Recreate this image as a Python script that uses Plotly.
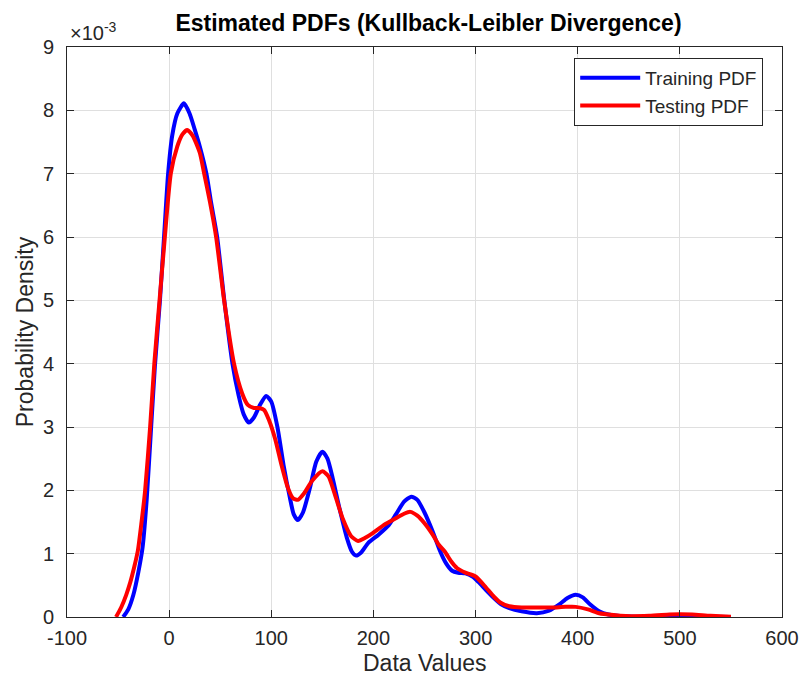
import plotly.graph_objects as go
import numpy as np

# Data values (x) and densities (in units of 1e-3)
train_x = [-45, -40, -35, -30, -26, -22, -18, -14, -9, -5, -1, 3, 8, 14.5, 20, 25, 30, 36.5,
           41, 47, 54, 62, 68, 73, 78, 83, 89, 95, 100, 106, 112, 118, 122, 126, 131, 138,
           144, 150, 155, 160, 167, 174, 179, 183, 188, 195, 205, 215, 222, 230, 237, 243,
           250, 258, 265, 271, 277, 283, 290, 297, 303, 310, 318, 325, 333, 345, 360, 372,
           382, 390, 398, 405, 412, 421, 430, 447, 470, 500, 525, 550]
train_y = [0.0, 0.12, 0.35, 0.72, 1.1, 1.85, 2.9, 3.95, 5.0, 6.0, 7.0, 7.6, 7.95, 8.11, 7.95,
           7.7, 7.43, 7.0, 6.55, 6.0, 5.0, 4.0, 3.5, 3.2, 3.07, 3.15, 3.35, 3.49, 3.4, 3.0,
           2.4, 1.9, 1.62, 1.53, 1.65, 2.05, 2.45, 2.61, 2.5, 2.2, 1.7, 1.25, 1.03, 0.97,
           1.02, 1.17, 1.3, 1.45, 1.62, 1.82, 1.9, 1.85, 1.65, 1.35, 1.05, 0.85, 0.73, 0.70,
           0.69, 0.64, 0.55, 0.43, 0.3, 0.2, 0.14, 0.09, 0.06, 0.1, 0.2, 0.3, 0.35, 0.31, 0.2,
           0.09, 0.04, 0.01, 0.0, 0.01, 0.005, 0.0]

test_x = [-52, -47, -42, -38, -34, -30.6, -27, -23.5, -18.6, -14.5, -9.4, -4.2, 1.6, 8, 13,
          17.7, 23, 30, 34.3, 40, 46, 53.8, 63.5, 71.5, 77, 83, 88, 93, 98, 104, 110, 116,
          121, 126, 132, 140, 150, 156, 162, 170, 178, 185, 192, 199, 210, 222, 230, 236,
          243, 250, 258, 264, 270, 276, 282, 290, 300, 310, 318, 325, 333, 345, 360, 375,
          388, 398, 410, 421, 435, 447, 470, 490, 500, 512, 530, 550]
test_y = [0.0, 0.15, 0.35, 0.55, 0.8, 1.05, 1.5, 2.0, 3.0, 4.0, 5.0, 6.0, 7.0, 7.43, 7.62,
          7.69, 7.6, 7.33, 7.0, 6.55, 6.0, 5.0, 4.0, 3.53, 3.35, 3.3, 3.3, 3.27, 3.1, 2.8,
          2.4, 2.05, 1.88, 1.85, 1.95, 2.15, 2.30, 2.22, 1.95, 1.55, 1.28, 1.20, 1.25, 1.32,
          1.45, 1.56, 1.63, 1.66, 1.6, 1.48, 1.3, 1.14, 1.03, 0.88, 0.77, 0.70, 0.64, 0.47,
          0.32, 0.22, 0.17, 0.15, 0.15, 0.15, 0.16, 0.16, 0.12, 0.06, 0.03, 0.015, 0.02,
          0.04, 0.045, 0.04, 0.02, 0.005]

scale = 1e-3
x_ticks = [-100, 0, 100, 200, 300, 400, 500, 600]
y_ticks = [0, 1, 2, 3, 4, 5, 6, 7, 8, 9]

FONT = "Liberation Sans, Arial, Helvetica, sans-serif"
AX = "#262626"
GRID = "#dfdfdf"

fig = go.Figure()
fig.add_trace(go.Scatter(x=train_x, y=np.array(train_y) * scale, mode="lines",
                         name="Training PDF", line=dict(color="#0000ff", width=4, shape="spline", smoothing=0.6)))
fig.add_trace(go.Scatter(x=test_x, y=np.array(test_y) * scale, mode="lines",
                         name="Testing PDF", line=dict(color="#ff0000", width=4, shape="spline", smoothing=0.6)))

fig.update_layout(
    width=811, height=684,
    margin=dict(l=67, r=21, t=47, b=67),
    paper_bgcolor="white", plot_bgcolor="white",
    font=dict(family=FONT, color=AX, size=20),
    title=dict(text="<b>Estimated PDFs (Kullback-Leibler Divergence)</b>",
               x=(67 + 790) / 2 / 811, xanchor="center", y=1 - 23 / 684, yanchor="middle",
               font=dict(size=23, color="black", family=FONT)),
    legend=dict(x=0.9737, xanchor="right", y=0.981, yanchor="top",
                bgcolor="white", bordercolor=AX, borderwidth=1,
                font=dict(size=19, color=AX, family=FONT),
                tracegroupgap=0, itemwidth=60),
    showlegend=True,
)
fig.update_xaxes(
    range=[-100, 600], tickvals=x_ticks, ticktext=[str(v) for v in x_ticks],
    showgrid=True, gridcolor=GRID, gridwidth=1, zeroline=False,
    showline=True, linecolor=AX, linewidth=1, mirror="ticks",
    ticks="inside", ticklen=7, tickcolor=AX, ticklabelstandoff=3,
    tickfont=dict(size=20, color=AX),
)
fig.update_yaxes(
    range=[0, 9 * scale], tickvals=[v * scale for v in y_ticks], ticktext=[str(v) for v in y_ticks],
    showgrid=True, gridcolor=GRID, gridwidth=1, zeroline=False,
    showline=True, linecolor=AX, linewidth=1, mirror="ticks",
    ticks="inside", ticklen=7, tickcolor=AX, ticklabelstandoff=8,
    tickfont=dict(size=20, color=AX),
    title=dict(text="Probability Density", font=dict(size=23, color=AX), standoff=2),
)
fig.add_annotation(text="Data Values", xref="paper", yref="paper", x=0.5, y=0,
                   xanchor="center", yanchor="top", yshift=-31, showarrow=False,
                   font=dict(size=23, color=AX, family=FONT))
fig.add_annotation(text="×10<sup>-3</sup>", xref="paper", yref="paper", x=0, y=1,
                   xanchor="left", yanchor="bottom", xshift=1, yshift=1, showarrow=False,
                   font=dict(size=20, color=AX, family=FONT))

fig.write_html("out.html")
